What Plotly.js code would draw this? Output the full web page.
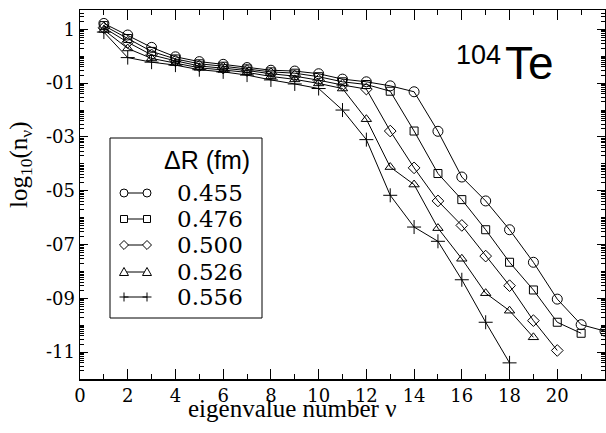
<!DOCTYPE html>
<html>
<head>
<meta charset="utf-8">
<script src="https://cdn.plot.ly/plotly-3.0.1.min.js"></script>
<style>html,body{margin:0;padding:0;background:#fff;}</style>
</head>
<body>
<div id="chart" style="width:606px;height:433px;"></div>
<script>
// eigenvalue number nu
const nu = [1,2,3,4,5,6,7,8,9,10,11,12,13,14,15,16,17,18,19,20,21,22];
// log10(n_nu) for each Delta R (fm)
const seriesNames = ["0.455","0.476","0.500","0.526","0.556"];
const r0455 = [1.22,0.79,0.33,-0.02,-0.20,-0.30,-0.42,-0.52,-0.55,-0.65,-0.85,-0.95,-1.10,-1.32,-2.79,-4.49,-5.38,-6.45,-7.66,-9.03,-9.98,-10.22];
const r0476 = [1.14,0.66,0.18,-0.10,-0.28,-0.37,-0.47,-0.58,-0.63,-0.76,-0.95,-1.05,-1.30,-2.78,-4.36,-5.33,-6.45,-7.66,-8.69,-9.89,-10.30];
const r0500 = [1.06,0.52,0.05,-0.17,-0.36,-0.44,-0.53,-0.65,-0.74,-0.89,-1.07,-1.22,-2.78,-4.15,-5.38,-6.29,-7.43,-8.53,-9.83,-10.94];
const r0526 = [0.98,0.29,-0.08,-0.25,-0.43,-0.51,-0.60,-0.75,-0.86,-1.01,-1.20,-2.34,-4.12,-4.77,-6.39,-7.53,-8.81,-9.46,-10.45];
const r0556 = [0.90,-0.05,-0.22,-0.33,-0.50,-0.58,-0.70,-0.88,-1.03,-1.20,-2.00,-3.10,-5.17,-6.35,-6.88,-8.31,-9.89,-11.40];
const symbols = ["circle-open","square-open","diamond-open","triangle-up-open","cross-thin-open"];
const sizes = [10,8,9,9,10];
// y tick labels
const yTickVals = [1,-1,-3,-5,-7,-9,-11];
const yTickText = ["1","-01","-03","-05","-07","-09","-11"];
const xTickVals = [0,2,4,6,8,10,12,14,16,18,20];

const serif = 'Times New Roman';
const numSerif = 'DejaVu Serif';
const sans = 'Liberation Sans';

const allSeries = [r0455,r0476,r0500,r0526,r0556];
const traces = allSeries.map((s,i)=>({
  x: nu.slice(0,s.length), y: s, name: seriesNames[i],
  type:'scatter', mode:'lines+markers', showlegend:false,
  line:{color:'#000',width:1},
  marker:{symbol:symbols[i],size:sizes[i],color:'#000',line:{color:'#000',width:1}}
}));

// log minor ticks
const minorVals = [];
for (let e=-12;e<=1;e++){
  for (let d=1; d<=9; d++){
    const v = e + Math.log10(d);
    if (d===1 && Math.abs(e)%2===1) continue;
    if (v>=-12 && v<=1.72) minorVals.push(v);
  }
}

const W=525, H=369, L=80, T=10;
const px = x=>(x-L)/W, py = y=>(T+H-y)/H;

// legend box (drawn as layout decoration)
const shapes = [
  {type:'rect', xref:'paper', yref:'paper', x0:px(110), x1:px(262), y0:py(318), y1:py(138),
   line:{color:'#000',width:1}, fillcolor:'#fff', layer:'above'}
];
const annotations = [
  {text:'\u0394R (fm)', x:px(207), y:py(160), xref:'paper', yref:'paper', xanchor:'center', yanchor:'middle', showarrow:false,
   font:{family:sans,size:25}}
];
const rowY = [193,219,245,272,297];
function P(x,y){ return px(x).toFixed(5)+','+py(y).toFixed(5); }
seriesNames.forEach((nm,i)=>{
  const yc = rowY[i];
  shapes.push({type:'line', xref:'paper', yref:'paper', x0:px(124), x1:px(147), y0:py(yc), y1:py(yc), line:{color:'#000',width:1}, layer:'above'});
  [124,147].forEach(xc=>{
    let s;
    if (i===0) s={type:'circle', x0:px(xc-4), x1:px(xc+4), y0:py(yc+4), y1:py(yc-4)};
    else if (i===1) s={type:'rect', x0:px(xc-3.5), x1:px(xc+3.5), y0:py(yc+3.5), y1:py(yc-3.5)};
    else if (i===2) s={type:'path', path:'M'+P(xc,yc-4.5)+'L'+P(xc+4.5,yc)+'L'+P(xc,yc+4.5)+'L'+P(xc-4.5,yc)+'Z'};
    else if (i===3) s={type:'path', path:'M'+P(xc,yc-4.5)+'L'+P(xc+4.5,yc+3.5)+'L'+P(xc-4.5,yc+3.5)+'Z'};
    else s={type:'path', path:'M'+P(xc-4.5,yc)+'L'+P(xc+4.5,yc)+'M'+P(xc,yc-4.5)+'L'+P(xc,yc+4.5)};
    s.xref='paper'; s.yref='paper'; s.layer='above'; s.line={color:'#000',width:1};
    if (i<4) s.fillcolor='#fff';
    shapes.push(s);
  });
  annotations.push({text:nm, x:px(175), y:py(yc), xref:'paper', yref:'paper', xanchor:'left', yanchor:'middle', showarrow:false,
    font:{family:numSerif,size:23}});
});

annotations.push(
  {text:'Te', x:px(503), y:py(63), xref:'paper', yref:'paper', xanchor:'left', yanchor:'middle', showarrow:false,
   font:{family:sans,size:46}},
  {text:'104', x:px(503), y:py(55), xref:'paper', yref:'paper', xanchor:'right', yanchor:'middle', showarrow:false,
   font:{family:sans,size:27}},
  {text:'eigenvalue number \u03bd', x:px(292), y:py(408), xref:'paper', yref:'paper', xanchor:'center', yanchor:'middle', showarrow:false,
   font:{family:serif,size:25}},
  {text:'log<sub>10</sub>(n<sub>\u03bd</sub>)', x:px(21), y:py(165), xref:'paper', yref:'paper', xanchor:'center', yanchor:'middle', showarrow:false, textangle:-90,
   font:{family:serif,size:25}}
);

const layout = {
  width:606, height:433,
  margin:{l:80,r:1,t:10,b:54},
  font:{family:serif, size:20, color:'#000'},
  paper_bgcolor:'#fff', plot_bgcolor:'#fff',
  showlegend:false,
  xaxis:{range:[0,22], tickvals:xTickVals, ticks:'inside', ticklen:10, tickwidth:1, tickcolor:'#000',
    showline:true, linecolor:'#000', linewidth:1.5, mirror:'allticks', showgrid:false, zeroline:false,
    tickfont:{family:numSerif,size:18},
    minor:{dtick:1, tick0:0, ticks:'inside', ticklen:5, tickcolor:'#000', showgrid:false}},
  yaxis:{range:[-12,1.72], tickmode:'array', tickvals:yTickVals, ticktext:yTickText, ticks:'inside', ticklen:8, tickwidth:1, tickcolor:'#000',
    showline:true, linecolor:'#000', linewidth:1.5, mirror:'allticks', showgrid:false, zeroline:false,
    tickfont:{family:numSerif,size:18},
    minor:{tickmode:'array', tickvals:minorVals, ticks:'inside', ticklen:4, tickcolor:'#000', showgrid:false}},
  shapes: shapes,
  annotations: annotations
};
Plotly.newPlot('chart', traces, layout, {displayModeBar:false, staticPlot:true});
</script>
</body>
</html>
